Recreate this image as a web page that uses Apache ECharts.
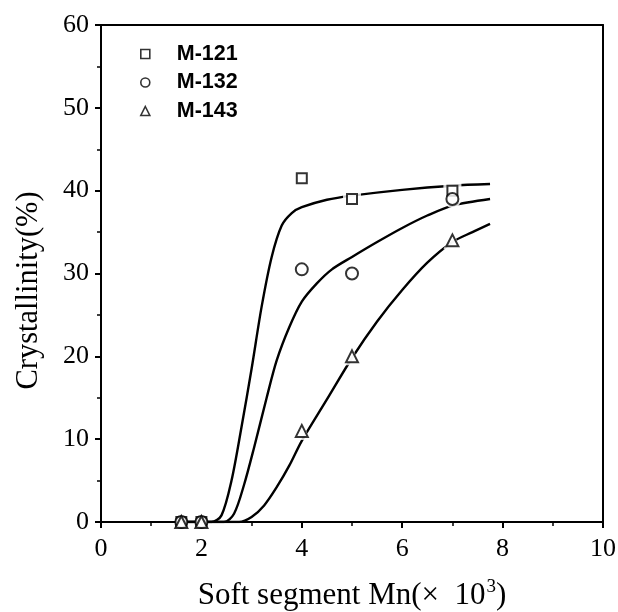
<!DOCTYPE html>
<html>
<head>
<meta charset="utf-8">
<script src="https://cdn.jsdelivr.net/npm/echarts@6/dist/echarts.min.js"></script>
<style>
  html, body { margin: 0; padding: 0; background: #fff; }
  #chart { width: 618px; height: 612px; }
</style>
</head>
<body>
<div id="chart"></div>
<script>
// measured points (x = soft segment Mn x10^3, y = crystallinity %)
const m121Points = [[1.6, 0], [2, 0], [4, 41.5], [5, 39], [7, 40]];
const m132Points = [[1.6, 0], [2, 0], [4, 30.5], [5, 30], [7, 39]];
const m143Points = [[1.6, 0], [2, 0], [4, 11], [5, 20], [7, 34]];

// fitted curves
const m121Curve = [[1.6, 0], [2.2, 0], [2.4, 0.8], [2.6, 5], [2.8, 11.5], [3.0, 18.5], [3.2, 26],
  [3.4, 32], [3.6, 35.8], [3.8, 37.3], [4.0, 38], [4.5, 38.9], [5, 39.4], [6, 40.1], [7, 40.6], [7.75, 40.8]];
const m132Curve = [[1.6, 0], [2.45, 0], [2.65, 1], [2.85, 4.5], [3.05, 9], [3.3, 15], [3.5, 19.5],
  [3.75, 23.5], [4.0, 26.6], [4.3, 28.8], [4.6, 30.5], [5, 32], [5.5, 33.8], [6, 35.5], [6.5, 37],
  [7, 38.2], [7.75, 39]];
const m143Curve = [[1.6, 0], [2.75, 0], [3.0, 0.6], [3.25, 2], [3.5, 4.2], [3.75, 6.8], [4.0, 9.8],
  [4.5, 14.8], [5, 19.8], [5.5, 24.2], [6, 28], [6.5, 31.3], [7, 33.8], [7.4, 35], [7.75, 36]];

const seriesNames = ["M-121", "M-132", "M-143"];
const seriesSymbols = ["rect", "circle", "triangle"];

const chart = echarts.init(document.getElementById("chart"));

const serif = "Liberation Serif";
const axisLine = { show: true, onZero: false, lineStyle: { color: "#000", width: 2 } };

function curve(data) {
  return {
    type: "line",
    data: data,
    smooth: 0.3,
    showSymbol: false,
    symbol: "none",
    silent: true,
    lineStyle: { color: "#000", width: 2.4 },
    z: 2,
  };
}

// white patch under each marker so the curve breaks around it
function halo(data, symbol) {
  return {
    type: "scatter",
    data: data.filter((d) => d[1] > 0),
    symbol: symbol,
    symbolSize: 18,
    itemStyle: { color: "#fff", borderWidth: 0 },
    silent: true,
    z: 3,
  };
}

function marks(name, data, symbol) {
  return {
    name: name,
    type: "scatter",
    data: data,
    symbol: symbol,
    symbolSize: symbol === "rect" ? 10 : 12,
    itemStyle: { color: "#fff", borderColor: "#000", borderWidth: 2 },
    z: 4,
  };
}

const pts = [m121Points, m132Points, m143Points];
const curves = [m121Curve, m132Curve, m143Curve];

const series = [];
curves.forEach((c) => series.push(curve(c)));
pts.forEach((p, i) => series.push(halo(p, seriesSymbols[i])));
pts.forEach((p, i) => series.push(marks(seriesNames[i], p, seriesSymbols[i])));

const option = {
  backgroundColor: "#fff",
  animation: false,
  grid: { left: 101, right: 15, top: 25, bottom: 90, outerBoundsMode: "none", containLabel: false },
  legend: {
    data: seriesNames.map((n, i) => ({ name: n, icon: seriesSymbols[i] })),
    orient: "vertical",
    left: 135,
    top: 38,
    itemWidth: 9,
    itemHeight: 9,
    itemGap: 6.5,
    itemStyle: { color: "#fff", borderColor: "#000", borderWidth: 1.6 },
    textStyle: { fontFamily: "Liberation Sans", fontSize: 21.5, fontWeight: "bold", color: "#000", padding: [0, 0, 0, 22] },
  },
  xAxis: [{
    type: "value",
    min: 0,
    max: 10,
    interval: 2,
    axisLine: axisLine,
    axisTick: { show: true, length: 6, lineStyle: { color: "#000", width: 2 } },
    minorTick: { show: true, splitNumber: 2, length: 4, lineStyle: { color: "#000", width: 1.5 } },
    splitLine: { show: false },
    axisLabel: { fontFamily: serif, fontSize: 26, color: "#000", margin: 14 },
    name: "{t|Soft segment Mn(×  10}{s|3}{t|)}",
    nameLocation: "middle",
    nameGap: 56,
    nameTextStyle: {
      rich: {
        t: { fontFamily: serif, fontSize: 31, color: "#000" },
        s: { fontFamily: serif, fontSize: 19, color: "#000", verticalAlign: "top", padding: [0, 0, 16, 1] },
      },
    },
  }, {
    // top frame line
    type: "value", position: "top", min: 0, max: 10,
    axisLine: axisLine, axisTick: { show: false }, axisLabel: { show: false }, splitLine: { show: false },
  }],
  yAxis: [{
    type: "value",
    min: 0,
    max: 60,
    interval: 10,
    axisLine: axisLine,
    axisTick: { show: true, length: 6, lineStyle: { color: "#000", width: 2 } },
    minorTick: { show: true, splitNumber: 2, length: 4, lineStyle: { color: "#000", width: 1.5 } },
    splitLine: { show: false },
    axisLabel: { fontFamily: serif, fontSize: 26, color: "#000", margin: 12 },
    name: "Crystallinity(%)",
    nameLocation: "middle",
    nameGap: 57,
    nameTextStyle: { fontFamily: serif, fontSize: 30.5, color: "#000", padding: [0, 34, 0, 0] },
  }, {
    // right frame line
    type: "value", position: "right", min: 0, max: 60,
    axisLine: axisLine, axisTick: { show: false }, axisLabel: { show: false }, splitLine: { show: false },
  }],
  series: series,
};

chart.setOption(option);
</script>
</body>
</html>
